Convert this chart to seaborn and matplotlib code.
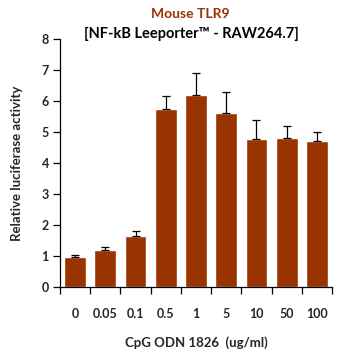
import matplotlib
matplotlib.use("Agg")
import matplotlib.pyplot as plt
import numpy as np
import pandas as pd
import seaborn as sns

# Data
doses = ["0", "0.05", "0.1", "0.5", "1", "5", "10", "50", "100"]
activity = [0.98, 1.20, 1.65, 5.73, 6.19, 5.61, 4.78, 4.81, 4.71]
err_top = [1.03, 1.29, 1.80, 6.16, 6.90, 6.28, 5.38, 5.19, 4.99]

sns.set_style("white")
plt.rcParams["font.family"] = ["Lato", "DejaVu Sans"]
plt.rcParams["font.weight"] = "bold"

df = pd.DataFrame({"dose": doses, "value": activity})
bar_color = "#993300"

fig = plt.figure(figsize=(3.5, 3.54), dpi=100)
ax = fig.add_axes([60 / 350, 66.7 / 354, 272 / 350, 248.4 / 354])

sns.barplot(data=df, x="dose", y="value", order=doses, color=bar_color,
            saturation=1, width=0.72, ax=ax)

upper = np.array(err_top) - np.array(activity)
ax.errorbar(np.arange(len(doses)), activity, yerr=[np.zeros(len(doses)), upper],
            fmt="none", ecolor="black", elinewidth=0.9, capsize=2.6, capthick=0.9)

ax.set_ylim(0, 8)
ax.set_xlim(-0.5, len(doses) - 0.5)
ax.set_yticks(range(0, 9))
ax.set_yticklabels([str(i) for i in range(0, 9)], fontsize=9, fontweight="bold")

# x tick marks between categories, labels centred under bars
ax.set_xticks(np.arange(-0.5, len(doses), 1.0))
ax.set_xticklabels([])
ax.set_xticks(np.arange(len(doses)), minor=True)
ax.set_xticklabels(doses, minor=True, fontsize=9, fontweight="bold")
ax.tick_params(axis="x", which="major", direction="out", length=5, width=0.9,
               color="black", bottom=True)
ax.tick_params(axis="x", which="minor", length=0, pad=15)
ax.tick_params(axis="y", direction="out", length=5, width=0.9, color="black",
               left=True, pad=3)

for s in ["top", "right"]:
    ax.spines[s].set_visible(False)
for s in ["left", "bottom"]:
    ax.spines[s].set_color("black")
    ax.spines[s].set_linewidth(0.9)

ax.set_xlabel("CpG ODN 1826  (ug/ml)", fontsize=9.5, fontweight="bold", labelpad=12)
ax.set_ylabel("Relative luciferase activity", fontsize=9.5, fontweight="bold", labelpad=13)

fig.text(0.545, 0.96, "Mouse TLR9", ha="center", va="center", fontsize=10,
         fontweight="bold", color=bar_color)
fig.text(0.548, 0.903, "[NF-kB Leeporter\u2122 - RAW264.7]", ha="center", va="center",
         fontsize=10.5, fontweight="bold", color="black")

fig.savefig("out.png", dpi=100)
